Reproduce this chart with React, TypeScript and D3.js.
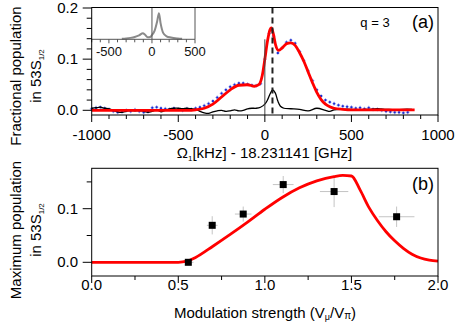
import React from 'react';
import * as d3 from 'd3';

// ---- panel (a): spectrum ----
const specX = [
  -1000, -975, -950, -925, -900, -875, -850, -825, -800, -775, -750, -725, -700, -675, -650, -625,
  -600, -575, -550, -525, -500, -475, -450, -425, -400, -375, -350, -325, -300, -275, -250, -225,
  -200, -175, -150, -125, -100, -75, -50, -25, 0, 25, 50, 75, 100, 125, 150, 175, 200, 225, 250,
  275, 300, 325, 350, 375, 400, 425, 450, 475, 500, 525, 550, 575, 600, 625, 650, 675, 700, 725,
  750, 775, 800, 825,
];
const specY = [
  0.003, 0.005, 0.006, 0.004, 0.002, -0.002, -0.004, -0.003, 0.0, -0.002, 0.001, -0.002, -0.004, -0.003,
  0.005, 0.006, 0.004, 0.003, 0.002, 0.004, 0.002, 0.0, 0.003, 0.002, 0.004, 0.006, 0.009, 0.013,
  0.018, 0.025, 0.033, 0.04, 0.046, 0.05, 0.053, 0.053, 0.051, 0.049, 0.048, 0.052, 0.1, 0.15,
  0.145, 0.112, 0.122, 0.133, 0.137, 0.131, 0.115, 0.097, 0.077, 0.058, 0.04, 0.028, 0.02, 0.016,
  0.013, 0.01, 0.008, 0.007, 0.006, 0.004, 0.005, 0.003, 0.005, 0.002, 0.002, 0.0, -0.002, -0.003,
  -0.004, -0.004, -0.005, -0.004,
];

const fitAX = [-1000, -450, -400, -350, -300, -250, -200, -150, -100, -60, -35, -15, 0, 15, 30, 38, 50, 62, 80, 100, 125, 150, 175, 200, 225, 250, 275, 300, 325, 350, 375, 400, 450, 500, 865];
const fitAY = [0, 0, 0.001, 0.004, 0.012, 0.026, 0.04, 0.049, 0.05, 0.047, 0.05, 0.068, 0.1, 0.135, 0.158, 0.161, 0.148, 0.128, 0.117, 0.122, 0.13, 0.132, 0.127, 0.113, 0.096, 0.075, 0.054, 0.035, 0.021, 0.012, 0.007, 0.004, 0.002, 0.001, 0.001];

const refX = [-1000, -975, -950, -925, -900, -875, -850, -825, -800, -775, -750, -725, -700, -675, -650, -625, -600, -575, -550, -525, -500, -475, -450, -425, -400, -375, -350, -325, -300, -275, -250, -225, -200, -175, -150, -125, -100, -75, -50, -25, 0, 15, 30, 45, 60, 75, 90, 110, 150, 200, 250, 300, 350, 375, 400, 450, 500, 550, 600, 650, 700, 750, 800, 850];
const refY = [0.004, 0.005, 0.006, 0.004, 0.003, 0.0, -0.003, -0.004, -0.002, 0.0, -0.001, 0.0, -0.002, -0.004, -0.002, 0.001, -0.003, 0.0, 0.003, 0.004, 0.004, 0.003, 0.004, 0.003, 0.002, -0.002, -0.005, -0.006, -0.003, -0.001, 0.0, -0.002, -0.001, 0.001, -0.001, 0.0, 0.003, 0.004, 0.004, 0.006, 0.012, 0.02, 0.032, 0.04, 0.034, 0.018, 0.008, 0.004, 0.003, 0.002, -0.001, 0.004, 0.0, -0.002, 0.001, 0.002, 0.002, 0.001, 0.002, 0.003, 0.002, 0.001, 0.002, 0.002];

const insetX = [-350, -300, -250, -200, -150, -105, -80, -50, -20, 0, 30, 60, 81, 100, 130, 170, 220, 300, 350];
const insetY = [0, 0.01, 0.03, 0.06, 0.11, 0.18, 0.13, 0.05, 0.06, 0.12, 0.25, 0.55, 0.82, 0.5, 0.19, 0.08, 0.04, 0.01, 0];

const markerX = 44;

// ---- panel (b): max population vs modulation ----
const modX = [0.558, 0.696, 0.875, 1.106, 1.4, 1.761];
const modY = [0.0, 0.069, 0.09, 0.145, 0.132, 0.085];
const modXErr = [0.03, 0.031, 0.048, 0.06, 0.082, 0.103];
const modYErr = [0.005, 0.017, 0.014, 0.016, 0.029, 0.019];

const fitBX = [0, 0.5, 0.55, 0.6, 0.7, 0.8, 0.9, 1.0, 1.1, 1.2, 1.3, 1.4, 1.45, 1.5, 1.55, 1.6, 1.65, 1.7, 1.75, 1.8, 1.85, 1.9, 1.95, 2.0];
const fitBY = [0, 0, 0.002, 0.009, 0.03, 0.052, 0.075, 0.099, 0.121, 0.139, 0.152, 0.16, 0.162, 0.161, 0.135, 0.103, 0.078, 0.057, 0.04, 0.026, 0.015, 0.008, 0.004, 0.002];

const FONT = '"Liberation Sans", Arial, Helvetica, sans-serif';

const App = () => {
  const left = 91.7;
  const right = 438;

  // panel a
  const aTop = 7.5;
  const aBot = 115;
  const xa = d3.scaleLinear().domain([-1000, 1000]).range([left, right]);
  const ya = d3.scaleLinear().domain([0, 0.2]).range([110.3, 8]);

  // inset
  const insBot = 39.3;
  const xi = d3.scaleLinear().domain([-700, 500]).range([left, 195]);
  const yi = d3.scaleLinear().domain([0, 1]).range([insBot - 0.5, aTop]);

  // panel b
  const bTop = 168.3;
  const bBot = 276;
  const xb = d3.scaleLinear().domain([0, 2]).range([left, right]);
  const yb = d3.scaleLinear().domain([0, 0.1]).range([262.3, 208.7]);

  const lineA = d3.line<number>().x((_, i) => xa(fitAX[i])).y((d) => ya(d)).curve(d3.curveMonotoneX);
  const lineRef = d3.line<number>().x((_, i) => xa(refX[i])).y((d) => ya(d)).curve(d3.curveCatmullRom);
  const lineIns = d3.line<number>().x((_, i) => xi(insetX[i])).y((d) => yi(d)).curve(d3.curveMonotoneX);
  const lineB = d3.line<number>().x((_, i) => xb(fitBX[i])).y((d) => yb(d)).curve(d3.curveMonotoneX);

  const yTicksA = d3.range(0, 0.2001, 0.02);
  const xTicksA = d3.range(-1000, 1001, 100);
  const xTicksI = d3.range(-700, 501, 100);
  const yTicksB = d3.range(0, 0.1501, 0.05);
  const xTicksB = d3.range(0, 2.001, 0.25);

  const isMajor = (v: number, step: number) => Math.abs(v / step - Math.round(v / step)) < 1e-6;

  return (
    <svg width={457} height={323} style={{ position: 'absolute', left: 0, top: 0, background: '#fff' }} fontFamily={FONT}>
      {/* ===== panel a ===== */}
      <g stroke="#aab4f4" strokeWidth={1}>
        {specX.map((x, i) => (
          <g key={i}>
            <line x1={xa(x - 11)} x2={xa(x + 11)} y1={ya(specY[i])} y2={ya(specY[i])} />
            <line x1={xa(x)} x2={xa(x)} y1={ya(specY[i] - 0.004)} y2={ya(specY[i] + 0.004)} />
          </g>
        ))}
      </g>
      <g fill="#1c2cd0">
        {specX.map((x, i) => (
          <rect key={i} x={xa(x) - 1} y={ya(specY[i]) - 1} width={2} height={2} />
        ))}
      </g>
      <path d={lineRef(refY) || ''} fill="none" stroke="#000" strokeWidth={1.3} />
      <path d={lineA(fitAY) || ''} fill="none" stroke="#f00" strokeWidth={2.8} />
      <line x1={xa(0)} x2={xa(0)} y1={insBot} y2={aBot} stroke="#444" strokeWidth={1} />
      <line x1={xa(markerX)} x2={xa(markerX)} y1={aTop} y2={aBot} stroke="#222" strokeWidth={2} strokeDasharray="6,4" />

      {/* inset */}
      <path d={lineIns(insetY) || ''} fill="none" stroke="#8a8a8a" strokeWidth={2} />
      <line x1={xi(0)} x2={xi(0)} y1={aTop} y2={insBot} stroke="#555" strokeWidth={1} />
      <line x1={left} x2={xi(500)} y1={insBot} y2={insBot} stroke="#555" strokeWidth={1} />
      <line x1={xi(500)} x2={xi(500)} y1={aTop} y2={insBot} stroke="#555" strokeWidth={1} />
      {xTicksI.map((t) => (
        <line key={t} x1={xi(t)} x2={xi(t)} y1={insBot} y2={insBot + (isMajor(t, 500) ? 4 : 3)} stroke="#555" strokeWidth={1} />
      ))}
      {[-500, 0, 500].map((t) => (
        <text key={t} x={xi(t)} y={56} textAnchor="middle" fontSize={13} fill="#111">{t}</text>
      ))}

      {/* frame a */}
      <rect x={left} y={aTop} width={right - left} height={aBot - aTop} fill="none" stroke="#000" strokeWidth={1} />
      {yTicksA.map((t) => (
        <line key={t} x1={left - (isMajor(t, 0.1) ? 9 : 5)} x2={left} y1={ya(t)} y2={ya(t)} stroke="#000" strokeWidth={1} />
      ))}
      {[0, 0.1, 0.2].map((t) => (
        <text key={t} x={78} y={ya(t) + 5} textAnchor="end" fontSize={15} fill="#000">{t.toFixed(1)}</text>
      ))}
      {xTicksA.map((t) => (
        <line key={t} x1={xa(t)} x2={xa(t)} y1={aBot} y2={aBot + (isMajor(t, 500) ? 7 : 4)} stroke="#000" strokeWidth={1} />
      ))}
      {[-1000, -500, 0, 500, 1000].map((t) => (
        <text key={t} x={xa(t)} y={139.5} textAnchor="middle" fontSize={15} fill="#000">{t}</text>
      ))}
      <text x={264.5} y={157.5} textAnchor="middle" fontSize={15} fill="#000">
        Ω<tspan fontSize={8} dy={3}>1</tspan><tspan dy={-3}>[kHz] - 18.231141 [GHz]</tspan>
      </text>
      <text x={375} y={27} textAnchor="middle" fontSize={13} fill="#000">q = 3</text>
      <text x={423} y={28} textAnchor="middle" fontSize={18} fill="#000">(a)</text>
      <text transform="translate(21,76) rotate(-90)" textAnchor="middle" fontSize={15} fill="#000">Fractional population</text>
      <text transform="translate(40.5,76) rotate(-90)" textAnchor="middle" fontSize={15} fill="#000">
        in 53S<tspan fontSize={8} dy={3}>1/2</tspan>
      </text>

      {/* ===== panel b ===== */}
      <g stroke="#c4c4c4" strokeWidth={1}>
        {modX.map((x, i) => (
          <g key={i}>
            <line x1={xb(x - modXErr[i])} x2={xb(x + modXErr[i])} y1={yb(modY[i])} y2={yb(modY[i])} />
            <line x1={xb(x)} x2={xb(x)} y1={yb(modY[i] - modYErr[i])} y2={yb(modY[i] + modYErr[i])} />
          </g>
        ))}
      </g>
      <path d={lineB(fitBY) || ''} fill="none" stroke="#f00" strokeWidth={2.8} />
      <g fill="#000">
        {modX.map((x, i) => (
          <rect key={i} x={xb(x) - 3.5} y={yb(modY[i]) - 3.5} width={7} height={7} />
        ))}
      </g>
      <rect x={left} y={bTop} width={right - left} height={bBot - bTop} fill="none" stroke="#000" strokeWidth={1} />
      {yTicksB.map((t) => (
        <line key={t} x1={left - (isMajor(t, 0.1) ? 9 : 5)} x2={left} y1={yb(t)} y2={yb(t)} stroke="#000" strokeWidth={1} />
      ))}
      {[0, 0.1].map((t) => (
        <text key={t} x={78} y={yb(t) + 5} textAnchor="end" fontSize={15} fill="#000">{t.toFixed(1)}</text>
      ))}
      {xTicksB.map((t) => (
        <line key={t} x1={xb(t)} x2={xb(t)} y1={bBot} y2={bBot + (isMajor(t, 0.5) ? 7 : 4)} stroke="#000" strokeWidth={1} />
      ))}
      {[0, 0.5, 1, 1.5, 2].map((t) => (
        <text key={t} x={xb(t)} y={290} textAnchor="middle" fontSize={15} fill="#000">{t.toFixed(1)}</text>
      ))}
      <text x={265} y={318} textAnchor="middle" fontSize={15} fill="#000">
        Modulation strength (V<tspan fontSize={9} dy={2}>μ</tspan><tspan dy={-2}>/V</tspan><tspan fontSize={10} dy={1}>π</tspan><tspan dy={-1}>)</tspan>
      </text>
      <text x={423} y={190} textAnchor="middle" fontSize={18} fill="#000">(b)</text>
      <text transform="translate(21,230) rotate(-90)" textAnchor="middle" fontSize={15} fill="#000">Maximum population</text>
      <text transform="translate(40.5,230) rotate(-90)" textAnchor="middle" fontSize={15} fill="#000">
        in 53S<tspan fontSize={8} dy={3}>1/2</tspan>
      </text>
    </svg>
  );
};

export default App;
